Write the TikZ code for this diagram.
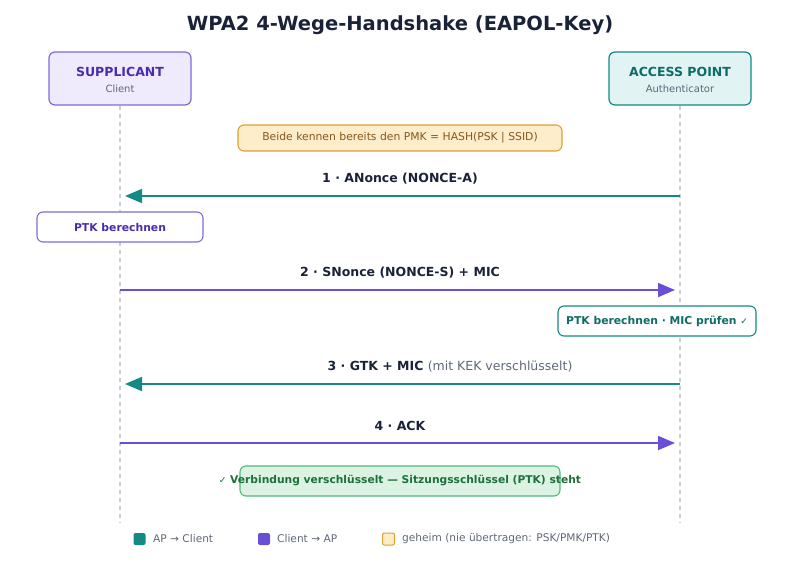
\documentclass[tikz,border=0pt]{standalone}
\usepackage{fontspec}
\setmainfont{DejaVu Sans}
\usetikzlibrary{arrows.meta}
\definecolor{titlecol}{HTML}{1A2238}
\definecolor{greytext}{HTML}{5F6779}
\definecolor{lifeline}{HTML}{C9CDD5}
\definecolor{tealmsg}{HTML}{138A84}
\definecolor{tealtext}{HTML}{0F6B66}
\definecolor{tealfill}{HTML}{E1F4F3}
\definecolor{purplemsg}{HTML}{6A4FD6}
\definecolor{purpletext}{HTML}{4A2DAF}
\definecolor{purplefill}{HTML}{EFEBFD}
\definecolor{notefill}{HTML}{FDEDCB}
\definecolor{notedraw}{HTML}{DFA02E}
\definecolor{notetext}{HTML}{86581A}
\definecolor{okfill}{HTML}{DCF3E4}
\definecolor{okdraw}{HTML}{52B97B}
\definecolor{oktext}{HTML}{1E6F3A}
\newcommand{\fsz}[1]{\fontsize{#1}{#1}\selectfont}
\begin{document}
\begin{tikzpicture}[x=1pt, y=-1pt,
	actor/.style={rounded corners=6pt, line width=1.2pt, minimum width=142pt, minimum height=53pt},
	stepbox/.style={rounded corners=6pt, line width=1.1pt, minimum height=30pt, inner sep=0pt},
	msg/.style={line width=1.8pt, -{Triangle[length=17pt, width=14pt]}, shorten >=5pt},
	msglabel/.style={font=\fsz{12.5}\bfseries, text=titlecol, inner sep=0pt},
	legendbox/.style={rounded corners=2pt, minimum size=12pt, inner sep=0pt}]
	\useasboundingbox (0,0) rectangle (800,578);
	\node[font=\fsz{19.5}\bfseries, text=titlecol] (title) at (400,25) {WPA2 4-Wege-Handshake (EAPOL-Key)};

	% actors and lifelines
	\node[actor, draw=purplemsg!85, fill=purplefill] (supp) at (120,78.5) {};
	\node[font=\fsz{12.5}\bfseries, text=purpletext] (supptitle) at (120,72) {SUPPLICANT};
	\node[font=\fsz{10}, text=greytext] (suppsub) at (120,89) {Client};
	\node[actor, draw=tealmsg, fill=tealfill] (ap) at (680,78.5) {};
	\node[font=\fsz{12.5}\bfseries, text=tealtext] (aptitle) at (680,72) {ACCESS POINT};
	\node[font=\fsz{10}, text=greytext] (apsub) at (680,89) {Authenticator};
	\coordinate (suppend) at (120,522);
	\coordinate (apend) at (680,522);
	\draw[lifeline, line width=1.1pt, dash pattern=on 4pt off 4pt] (supp.south) -- (suppend);
	\draw[lifeline, line width=1.1pt, dash pattern=on 4pt off 4pt] (ap.south) -- (apend);

	\node[stepbox, draw=notedraw, fill=notefill, minimum width=324pt, minimum height=26pt,
		font=\fsz{10.8}, text=notetext] (pmk) at (400,138) {Beide kennen bereits den PMK = HASH(PSK | SSID)};

	% messages
	\coordinate (s1) at (120,196);
	\coordinate (a1) at (680,196);
	\draw[msg, tealmsg] (a1) -- (s1);
	\node[msglabel] (m1) at (400,179) {1 · ANonce (NONCE-A)};

	\node[stepbox, draw=purplemsg!85, fill=white, minimum width=166pt,
		font=\fsz{10.8}\bfseries, text=purpletext] (ptks) at (120,227) {PTK berechnen};

	\coordinate (s2) at (120,290);
	\coordinate (a2) at (680,290);
	\draw[msg, purplemsg] (s2) -- (a2);
	\node[msglabel] (m2) at (400,273) {2 · SNonce (NONCE-S) + MIC};

	\node[stepbox, draw=tealmsg, fill=white, minimum width=198pt,
		font=\fsz{10.8}\bfseries, text=tealtext] (ptka) at (657,321) {PTK berechnen · MIC prüfen {\mdseries\fsz{9}✓}};

	\coordinate (s3) at (120,384);
	\coordinate (a3) at (680,384);
	\draw[msg, tealmsg] (a3) -- (s3);
	\node[msglabel] (m3) at (450,367) {3 · GTK + MIC {\mdseries\color{greytext} (mit KEK verschlüsselt)}};

	\coordinate (s4) at (120,443);
	\coordinate (a4) at (680,443);
	\draw[msg, purplemsg] (s4) -- (a4);
	\node[msglabel] (m4) at (400,426) {4 · ACK};

	\node[stepbox, draw=okdraw, fill=okfill, minimum width=320pt] (done) at (400,481) {};
	\node[font=\fsz{10.7}\bfseries, text=oktext, inner sep=0pt] (donetext) at (400,481)
		{{\mdseries\fsz{9}✓} Verbindung verschlüsselt — Sitzungsschlüssel (PTK) steht};

	% legend
	\node[legendbox, fill=tealmsg] (lg1) at (139.5,539) {};
	\node[right, font=\fsz{10.6}, text=greytext, inner sep=0pt] (lt1) at (153,539) {AP → Client};
	\node[legendbox, fill=purplemsg] (lg2) at (264,539) {};
	\node[right, font=\fsz{10.6}, text=greytext, inner sep=0pt] (lt2) at (277,539) {Client → AP};
	\node[legendbox, fill=notefill, draw=notedraw, line width=1pt] (lg3) at (388.5,539) {};
	\node[right, font=\fsz{10.6}, text=greytext, inner sep=0pt] (lt3) at (402,539) {geheim (nie übertragen: PSK/PMK/PTK)};
\end{tikzpicture}
\end{document}
